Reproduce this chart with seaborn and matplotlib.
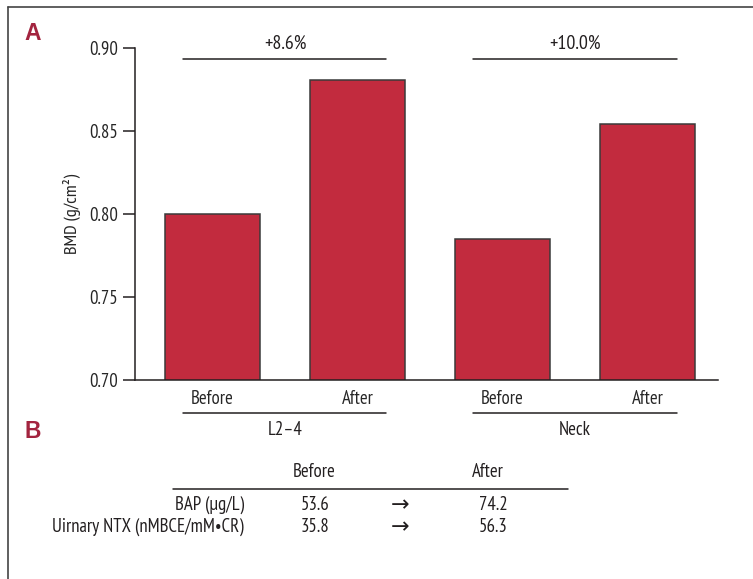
import matplotlib
matplotlib.use("Agg")
import matplotlib.pyplot as plt
import seaborn as sns
import pandas as pd

# Bone mineral density before and after treatment
sites = ["L2\u20134", "L2\u20134", "Neck", "Neck"]
phases = ["Before", "After", "Before", "After"]
bmd = [0.800, 0.881, 0.785, 0.854]
site_names = ["L2\u20134", "Neck"]
changes = ["+8.6%", "+10.0%"]

# Bone turnover markers
marker_names = ["BAP (\u03bcg/L)", "Uirnary NTX (nMBCE/mM\u2022CR)"]
marker_before = [53.6, 35.8]
marker_after = [74.2, 56.3]

sns.set_theme(style="white")
plt.rcParams["font.family"] = ["PT Sans Narrow", "DejaVu Sans"]
plt.rcParams["text.color"] = "#231f20"

W, H = 753, 579
FS = 13.5
fig = plt.figure(figsize=(W / 100, H / 100), dpi=100)
ax = fig.add_axes([135 / W, 1 - 380 / H, (718 - 135) / W, (380 - 48) / H])

df = pd.DataFrame({"pos": [f"{s} {p}" for s, p in zip(sites, phases)],
                   "phase": phases, "bmd": bmd})
bar_color = "#c22b3e"
sns.barplot(data=df, x="pos", y="bmd", color=bar_color, width=0.655,
            edgecolor="#3a3a3a", linewidth=1.1, saturation=1, ax=ax)

ax.set_ylim(0.70, 0.90)
ax.set_xlim(-0.534, 3.486)
yt = [0.70, 0.75, 0.80, 0.85, 0.90]
ax.set_yticks(yt)
ax.set_yticklabels([f"{v:.2f}" for v in yt])
ax.set_xticks(range(len(phases)))
ax.set_xticklabels(phases)
ax.tick_params(axis="y", length=9, width=1.1, color="#231f20", labelsize=FS,
               pad=3, left=True)
ax.tick_params(axis="x", length=0, labelsize=FS, pad=7)
ax.set_xlabel("")
ax.set_ylabel("BMD (g/cm\u00b2)", fontsize=FS - 0.3, labelpad=6)
for side in ["top", "right"]:
    ax.spines[side].set_visible(False)
for side in ["left", "bottom"]:
    ax.spines[side].set_color("#231f20")
    ax.spines[side].set_linewidth(1.1)

# Percentage-change brackets above and site brackets below each pair
xtr = ax.get_xaxis_transform()
for i, (name, ch) in enumerate(zip(site_names, changes)):
    c = 2 * i + 0.5
    ax.plot([c - 0.7, c + 0.7], [0.8934, 0.8934], color="#231f20", lw=1.1,
            clip_on=False)
    ax.text(c, 1.012, ch, transform=xtr, ha="center", va="center",
            fontsize=FS + 0.8)
    ax.plot([c - 0.7, c + 0.7], [-0.0994, -0.0994], transform=xtr,
            color="#231f20", lw=1.1, clip_on=False)
    ax.text(c, -0.151, name, transform=xtr, ha="center", va="center",
            fontsize=FS)

# Panel letters
panel_color = "#a3243f"
for letter, ypix in [("A", 34), ("B", 432)]:
    fig.text(33 / W, 1 - ypix / H, letter, color=panel_color, fontsize=16.5,
             fontweight="bold", ha="center", va="center",
             family=["Liberation Sans", "DejaVu Sans"])


def px(x, y):
    return x / W, 1 - y / H


# Marker table
fig.text(*px(314, 472), "Before", ha="center", va="center", fontsize=FS)
fig.text(*px(488, 472), "After", ha="center", va="center", fontsize=FS)
fig.add_artist(plt.Line2D([173 / W, 568 / W], [1 - 489 / H, 1 - 489 / H],
                          color="#231f20", lw=1.1))
for k, (name, b, a) in enumerate(zip(marker_names, marker_before, marker_after)):
    y = 505 + 22 * k
    fig.text(*px(244, y), name, ha="right", va="center", fontsize=FS)
    fig.text(*px(315, y), f"{b:.1f}", ha="center", va="center", fontsize=FS)
    fig.text(*px(400, y), "\u2192", ha="center", va="center", fontsize=16,
             family=["DejaVu Sans"])
    fig.text(*px(493, y), f"{a:.1f}", ha="center", va="center", fontsize=FS)

# Outer frame
fig.add_artist(plt.Line2D([8 / W, 8 / W], [0, 1 - 7 / H], color="#444444", lw=1.2))
fig.add_artist(plt.Line2D([8 / W, 1], [1 - 7 / H, 1 - 7 / H], color="#444444", lw=1.2))

fig.savefig("out.png", dpi=100)
